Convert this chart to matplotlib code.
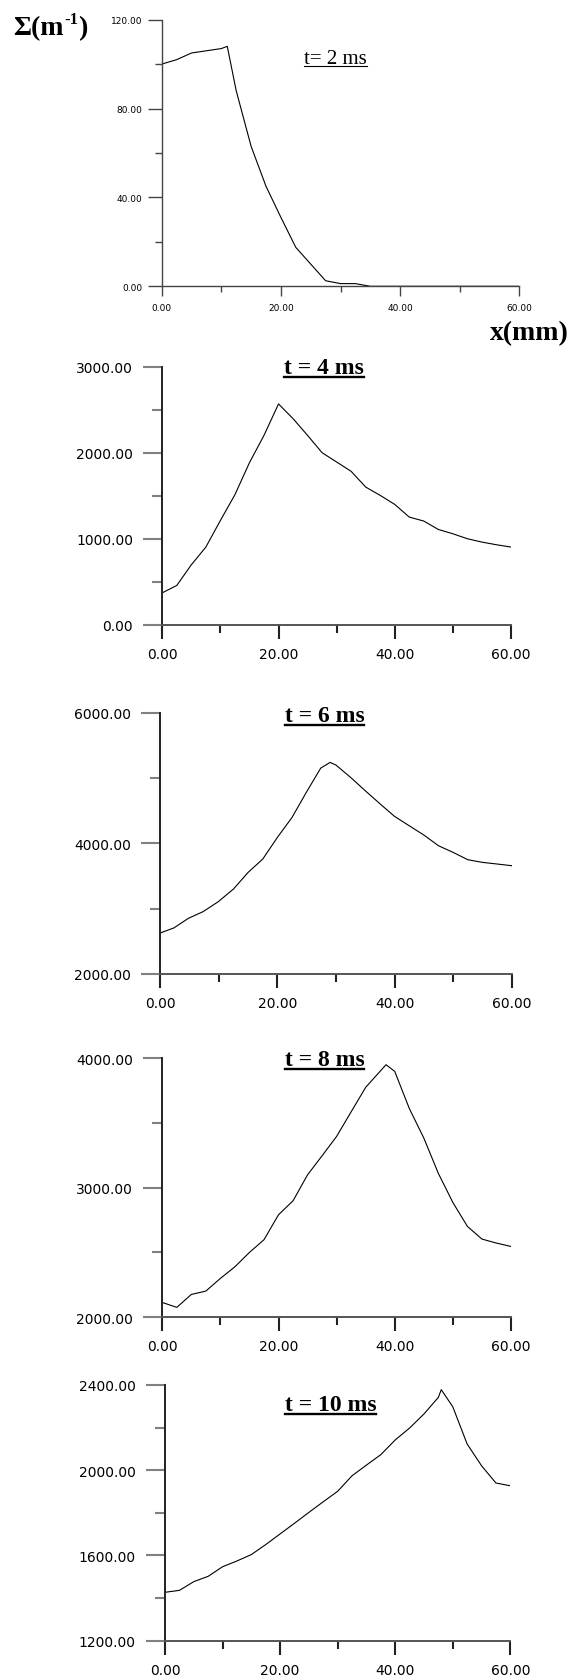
import matplotlib
matplotlib.use("Agg")
import matplotlib.pyplot as plt
from matplotlib.lines import Line2D

plt.rcParams['font.family'] = 'DejaVu Sans'

# flame surface density profiles Sigma(x) at successive times
x_2ms = [0, 2.5, 5, 7.5, 10, 11, 12.5, 15, 17.5, 20, 22.5, 27.5, 30, 32.5, 35, 40, 45, 50, 55, 60]
s_2ms = [100, 102, 105, 106, 107, 108, 88, 63, 45, 31, 17.5, 2.5, 1.2, 1.2, 0, 0, 0, 0, 0, 0]

x_4ms = [0, 2.5, 5, 7.5, 10, 12.5, 15, 17.5, 20, 22.5, 25, 27.5, 30, 32.5, 35, 37.5,
         40, 42.5, 45, 47.5, 50, 52.5, 55, 57.5, 60]
s_4ms = [369, 455, 696, 902, 1212, 1512, 1885, 2203, 2569, 2398, 2203, 2001, 1893, 1784,
         1601, 1504, 1399, 1251, 1205, 1107, 1057, 999, 960, 929, 902]

x_6ms = [0, 2.3, 4.8, 7.3, 9.9, 12.5, 15, 17.5, 20, 22.5, 25, 27.4, 29, 30, 32.5, 35,
         37.5, 40, 42.5, 45, 47.5, 50, 52.5, 55, 57.5, 60]
s_6ms = [2628, 2704, 2852, 2954, 3107, 3301, 3556, 3760, 4092, 4398, 4791, 5153, 5240,
         5199, 5010, 4806, 4607, 4413, 4270, 4128, 3964, 3862, 3750, 3709, 3684, 3658]

x_8ms = [0, 2.5, 5, 7.5, 10, 12.5, 15, 17.5, 20, 22.5, 25, 27.5, 30, 32.5, 35, 38.5,
         40, 42.5, 45, 47.5, 50, 52.5, 55, 57.5, 60]
s_8ms = [2113, 2075, 2175, 2201, 2299, 2389, 2500, 2598, 2791, 2899, 3100, 3247, 3397,
         3587, 3776, 3951, 3899, 3613, 3384, 3111, 2886, 2701, 2603, 2572, 2546]

x_10ms = [0, 2.5, 5, 7.5, 10, 12.5, 15, 17.5, 20, 22.5, 25, 27.5, 30, 32.5, 35, 37.5,
          40, 42.5, 45, 47.5, 48, 50, 52.5, 55, 57.5, 60]
s_10ms = [1427, 1436, 1477, 1502, 1547, 1574, 1604, 1651, 1701, 1751, 1802, 1852, 1901,
          1974, 2024, 2073, 2142, 2198, 2264, 2342, 2378, 2298, 2123, 2021, 1940, 1927]

titles = ['t= 2 ms', 't = 4 ms', 't = 6 ms', 't = 8 ms', 't = 10 ms']
xticks = [0, 20, 40, 60]
yticks = [[0, 40, 80, 120], [0, 1000, 2000, 3000], [2000, 4000, 6000],
          [2000, 3000, 4000], [1200, 1600, 2000, 2400]]
series = [(x_2ms, s_2ms), (x_4ms, s_4ms), (x_6ms, s_6ms), (x_8ms, s_8ms), (x_10ms, s_10ms)]

rects = [[0.2832, 0.8291, 0.6263, 0.1586],
         [0.2842, 0.6279, 0.6107, 0.1532],
         [0.2807, 0.4200, 0.6154, 0.1554],
         [0.2842, 0.2159, 0.6107, 0.1539],
         [0.2890, 0.0234, 0.6047, 0.1521]]
title_pos = [(0.485, 0.838), (0.464, 0.976), (0.467, 0.969), (0.465, 0.974), (0.479, 0.903)]

fig = plt.figure(figsize=(5.71, 16.81), dpi=100)

titles_drawn = []
for i, (xs, ys) in enumerate(series):
    ax = fig.add_axes(rects[i])
    ax.plot(xs, ys, color='black', lw=0.8)
    yt = yticks[i]
    ax.set_xlim(0, 60)
    ax.set_ylim(yt[0], yt[-1])
    for s in ['top', 'right']:
        ax.spines[s].set_visible(False)
    step = yt[1] - yt[0]
    ax.set_xticks(xticks)
    ax.set_xticklabels(['%.2f' % v for v in xticks])
    ax.set_xticks([10, 30, 50], minor=True)
    ax.set_yticks(yt)
    ax.set_yticklabels(['%.2f' % v for v in yt])
    ax.set_yticks([v + step / 2 for v in yt[:-1]], minor=True)

    if i == 0:
        for s in ['left', 'bottom']:
            ax.spines[s].set_color('#444444')
            ax.spines[s].set_linewidth(1.0)
        ax.tick_params(axis='both', which='both', colors='#444444', labelcolor='black',
                       labelsize=6.5, width=1.0, direction='out')
        ax.tick_params(axis='y', which='major', length=10, pad=4)
        ax.tick_params(axis='y', which='minor', length=5)
        ax.tick_params(axis='x', which='major', length=7, pad=5)
        ax.tick_params(axis='x', which='minor', length=4)
        t = ax.text(title_pos[i][0], title_pos[i][1], titles[i], transform=ax.transAxes,
                    ha='center', va='baseline', fontsize=15, family='Liberation Serif')
        titles_drawn.append((ax, t, 3, 0.8))
    else:
        ax.spines['left'].set_color('#222222')
        ax.spines['left'].set_linewidth(1.4)
        ax.spines['bottom'].set_color('#555555')
        ax.spines['bottom'].set_linewidth(1.4)
        ax.tick_params(axis='y', which='both', colors='#808080', labelcolor='black',
                       width=1.5, direction='out', labelsize=10)
        ax.tick_params(axis='x', which='both', colors='#222222', labelcolor='black',
                       width=1.5, direction='out', labelsize=10)
        ax.tick_params(axis='y', which='major', length=14, pad=7)
        ax.tick_params(axis='y', which='minor', length=7.5)
        ax.tick_params(axis='x', which='major', length=10, pad=6)
        ax.tick_params(axis='x', which='minor', length=6)
        t = ax.text(title_pos[i][0], title_pos[i][1], titles[i], transform=ax.transAxes,
                    ha='center', va='baseline', fontsize=17, fontweight='bold',
                    family='Liberation Serif', clip_on=False)
        titles_drawn.append((ax, t, 4, 1.7))

# axis labels
serif_bold = dict(family='Liberation Serif', fontweight='bold')
x_label = fig.text(569 / 571, 1 - 340 / 1681, 'x(mm)', fontsize=20,
                   ha='right', va='baseline', **serif_bold)

fig.canvas.draw()
renderer = fig.canvas.get_renderer()
to_fig = fig.transFigure.inverted()

# Sigma(m^-1) built from pieces so the exponent keeps a plain hyphen
px = 13
for txt, size, base in [('Σ(m', 20, 35), ('-1', 12, 24), (')', 20, 35)]:
    part = fig.text(px / 571, 1 - base / 1681, txt, fontsize=size,
                    ha='left', va='baseline', **serif_bold)
    px = part.get_window_extent(renderer).x1 + 0.5

# underline each time label
for ax, t, gap, lw in titles_drawn:
    bb = t.get_window_extent(renderer)
    base = ax.transAxes.transform(t.get_position())[1] - gap
    (x0, y0) = to_fig.transform((bb.x0, base))
    (x1, _) = to_fig.transform((bb.x1, base))
    fig.add_artist(Line2D([x0, x1], [y0, y0], color='black', lw=lw,
                          transform=fig.transFigure))

fig.savefig('out.png', dpi=100)
